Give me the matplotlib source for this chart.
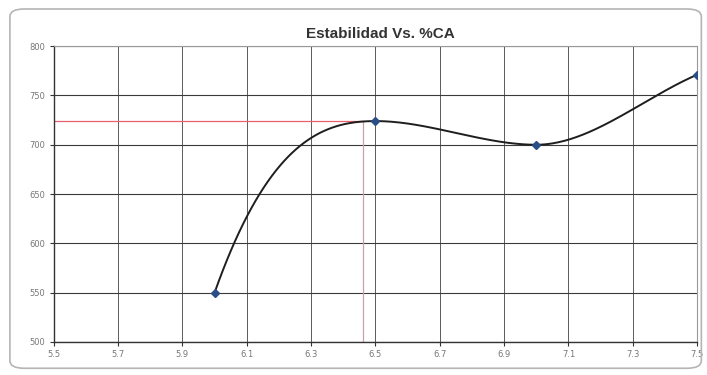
import matplotlib
matplotlib.use("Agg")
import matplotlib.pyplot as plt
from matplotlib.patches import FancyBboxPatch
import numpy as np

# datos de estabilidad vs porcentaje de cemento asfaltico
ca = [6.0, 6.5, 7.0, 7.5]
estabilidad = [550, 724, 700, 771]

# lectura del optimo sobre la curva
ca_opt = 6.46
estab_opt = 724

x_ticks = [5.5, 5.7, 5.9, 6.1, 6.3, 6.5, 6.7, 6.9, 7.1, 7.3, 7.5]
y_ticks = [500, 550, 600, 650, 700, 750, 800]

# pendientes de la curva suavizada en cada punto (plana en maximos y minimos)
pendientes = [920, 0, 0, 140]


def suavizar(xs, ys, ms, n=80):
    # hermite cubico por tramos
    out_x, out_y = [], []
    for i in range(len(xs) - 1):
        h = xs[i + 1] - xs[i]
        t = np.linspace(0, 1, n)
        if i > 0:
            t = t[1:]
        h00 = 2 * t ** 3 - 3 * t ** 2 + 1
        h10 = t ** 3 - 2 * t ** 2 + t
        h01 = -2 * t ** 3 + 3 * t ** 2
        h11 = t ** 3 - t ** 2
        out_x.append(xs[i] + t * h)
        out_y.append(h00 * ys[i] + h10 * h * ms[i] + h01 * ys[i + 1] + h11 * h * ms[i + 1])
    return np.concatenate(out_x), np.concatenate(out_y)


fig = plt.figure(figsize=(7.07, 3.75), dpi=100)
fig.patch.set_facecolor("white")

# borde redondeado del area del grafico
marco = FancyBboxPatch((0.014, 0.018), 0.978, 0.958, boxstyle="round,pad=0,rounding_size=0.02",
                       transform=fig.transFigure, fill=False, edgecolor="#b5b5b5", linewidth=1.2)
fig.patches.append(marco)

ax = fig.add_axes([0.076, 0.088, 0.910, 0.789])
ax.set_xlim(5.5, 7.5)
ax.set_ylim(500, 800)
ax.set_xticks(x_ticks)
ax.set_yticks(y_ticks)
ax.set_xticklabels([f"{v:.1f}" for v in x_ticks])
ax.tick_params(labelsize=6, colors="#777777", length=3, width=0.8, pad=3)
ax.tick_params(axis="both", color="#333333")
ax.grid(True, axis="y", color="#3a3a3a", linewidth=0.8)
ax.grid(True, axis="x", color="#5a5a5a", linewidth=0.7)
ax.set_axisbelow(True)
for lado in ["left", "bottom"]:
    ax.spines[lado].set_color("#333333")
    ax.spines[lado].set_linewidth(1.0)
for lado in ["top", "right"]:
    ax.spines[lado].set_color("#999999")
    ax.spines[lado].set_linewidth(0.8)

# lineas de lectura del optimo
ax.plot([5.5, ca_opt], [estab_opt, estab_opt], color="#e8606e", linewidth=0.9, zorder=2)
ax.plot([ca_opt, ca_opt], [500, estab_opt], color="#c8a0aa", linewidth=0.9, zorder=2)

xs, ys = suavizar(ca, estabilidad, pendientes)
ax.plot(xs, ys, color="#1e1e1e", linewidth=1.4, zorder=3)
ax.plot(ca, estabilidad, linestyle="none", marker="D", markersize=4,
        color="#2a4f86", zorder=4)

fig.text(0.538, 0.908, "Estabilidad Vs. %CA", ha="center", va="center",
         fontsize=11, fontweight="bold", color="#333333", family="Liberation Sans")

fig.savefig("out.png", dpi=100)
